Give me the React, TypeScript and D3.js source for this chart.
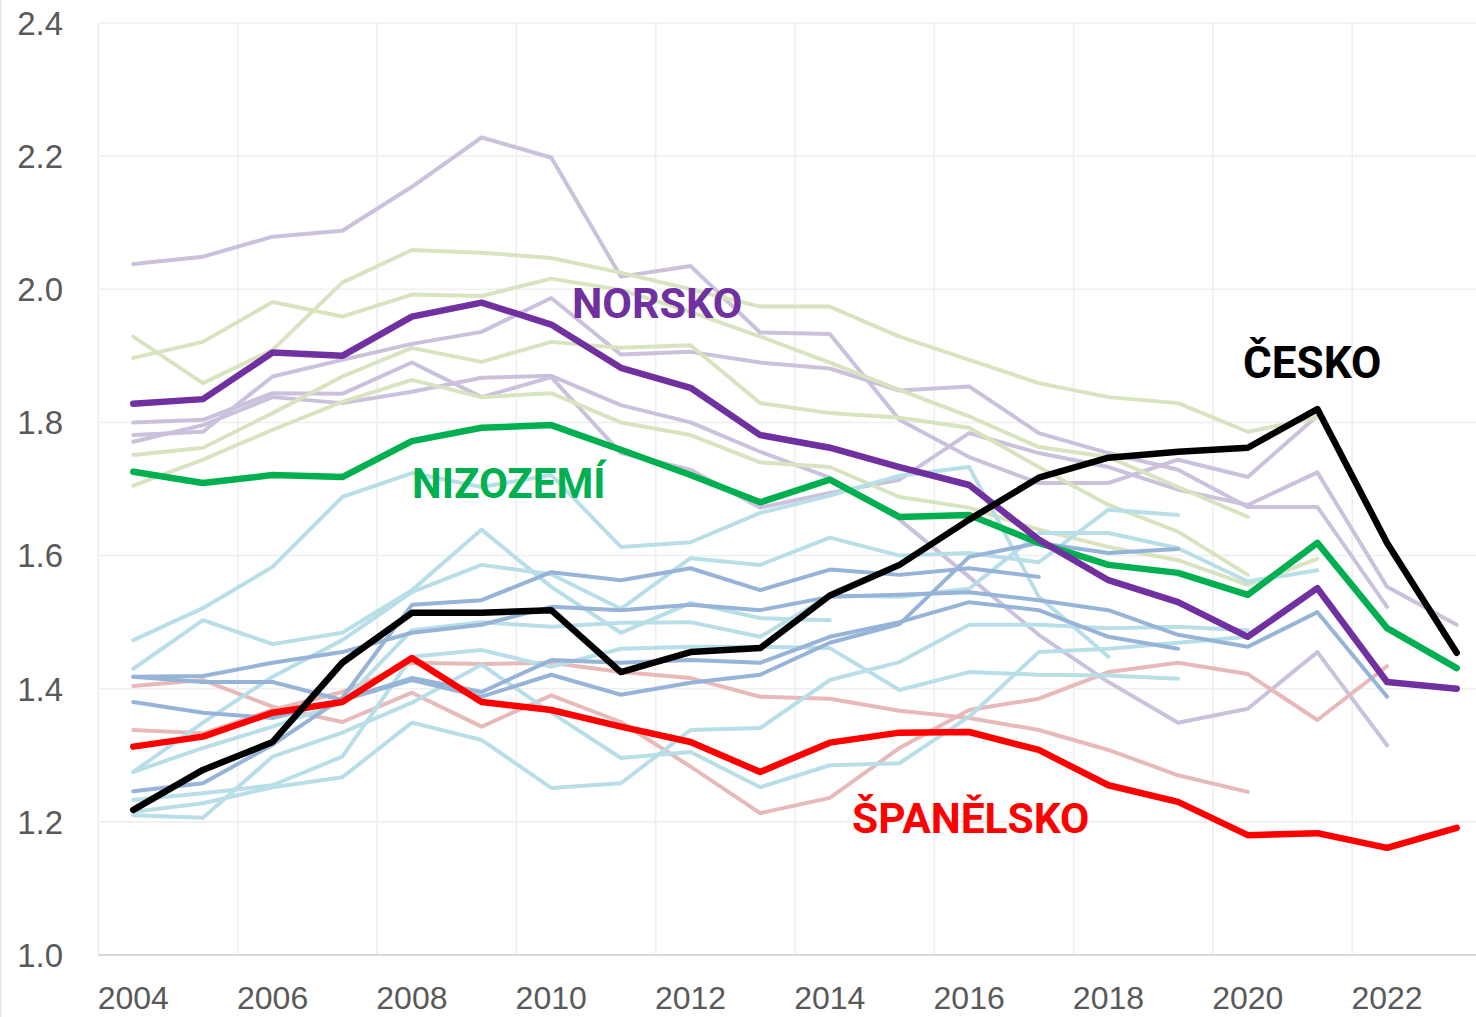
import React from "react";
import * as d3 from "d3";

const years = [2004, 2005, 2006, 2007, 2008, 2009, 2010, 2011, 2012, 2013, 2014, 2015, 2016, 2017, 2018, 2019, 2020, 2021, 2022, 2023];
const xTickYears = [2004, 2006, 2008, 2010, 2012, 2014, 2016, 2018, 2020, 2022];
const yTicks = [1.0, 1.2, 1.4, 1.6, 1.8, 2.0, 2.2, 2.4];

type V = number | null;

// highlighted series
const cesko: V[] = [1.218, 1.278, 1.32, 1.439, 1.514, 1.514, 1.518, 1.425, 1.455, 1.461, 1.54, 1.586, 1.654, 1.717, 1.747, 1.756, 1.762, 1.82, 1.619, 1.454];
const norsko: V[] = [1.828, 1.835, 1.905, 1.9, 1.959, 1.98, 1.947, 1.882, 1.852, 1.781, 1.762, 1.733, 1.706, 1.624, 1.563, 1.53, 1.478, 1.551, 1.41, 1.4];
const nizozemi: V[] = [1.726, 1.709, 1.721, 1.718, 1.772, 1.792, 1.796, 1.759, 1.721, 1.68, 1.714, 1.658, 1.661, 1.619, 1.586, 1.574, 1.541, 1.619, 1.491, 1.431];
const spanelsko: V[] = [1.313, 1.328, 1.364, 1.38, 1.446, 1.38, 1.368, 1.343, 1.32, 1.275, 1.319, 1.334, 1.335, 1.308, 1.255, 1.23, 1.18, 1.183, 1.161, 1.191];

// background: light purple
const purple1: V[] = [2.038, 2.049, 2.079, 2.088, 2.154, 2.228, 2.198, 2.019, 2.035, 1.935, 1.933, 1.804, 1.748, 1.709, 1.709, 1.744, 1.718, 1.81, null, null];
const purple2: V[] = [1.8, 1.804, 1.844, 1.843, 1.89, 1.838, 1.868, 1.754, 1.729, 1.672, 1.694, 1.714, 1.784, 1.754, 1.733, 1.699, 1.676, 1.725, 1.553, 1.496];
const purple3: V[] = [1.781, 1.786, 1.869, 1.894, 1.918, 1.936, 1.987, 1.902, 1.906, 1.89, 1.881, 1.848, 1.854, 1.784, 1.754, 1.729, 1.673, 1.673, 1.523, null];
const purple4: V[] = [1.771, 1.796, 1.838, 1.829, 1.846, 1.867, 1.87, 1.826, 1.8, 1.756, 1.717, 1.654, 1.568, 1.481, 1.41, 1.349, 1.37, 1.455, 1.315, null];

// background: light green
const green1: V[] = [1.929, 1.859, 1.909, 2.01, 2.059, 2.055, 2.047, 2.025, 2.0, 1.974, 1.974, 1.929, 1.894, 1.859, 1.838, 1.829, 1.786, 1.807, null, null];
const green2: V[] = [1.897, 1.921, 1.981, 1.959, 1.992, 1.99, 2.016, 1.999, 1.966, 1.929, 1.89, 1.849, 1.809, 1.763, 1.748, 1.703, 1.658, null, null, null];
const green3: V[] = [1.751, 1.762, 1.814, 1.869, 1.912, 1.891, 1.921, 1.912, 1.916, 1.829, 1.814, 1.807, 1.792, 1.733, 1.676, 1.636, 1.571, null, null, null];
const green4: V[] = [1.705, 1.744, 1.789, 1.831, 1.864, 1.838, 1.844, 1.8, 1.781, 1.74, 1.733, 1.688, 1.672, 1.639, 1.613, 1.593, 1.556, 1.595, null, null];

// background: light blue
const lblue1: V[] = [1.473, 1.521, 1.583, 1.688, 1.724, 1.703, 1.721, 1.613, 1.62, 1.664, 1.69, 1.72, 1.733, 1.538, 1.448, null, null, null, null, null];
const lblue2: V[] = [1.43, 1.503, 1.467, 1.484, 1.548, 1.639, 1.553, 1.484, 1.529, 1.506, 1.503, null, null, null, null, null, null, null, null, null];
const lblue3: V[] = [1.275, 1.349, 1.418, 1.473, 1.545, 1.586, 1.572, 1.52, 1.596, 1.586, 1.627, 1.6, 1.604, 1.59, 1.669, 1.661, null, null, null, null];
const lblue4: V[] = [1.275, 1.311, 1.343, 1.379, 1.488, 1.5, 1.493, 1.499, 1.5, 1.478, 1.54, 1.538, 1.55, 1.634, 1.634, 1.611, 1.561, 1.578, null, null];
const lblue5: V[] = [1.233, 1.243, 1.255, 1.298, 1.448, 1.458, 1.433, 1.46, 1.463, 1.463, 1.461, 1.398, 1.425, 1.421, 1.42, 1.415, null, null, null, null];
const lblue6: V[] = [1.21, 1.206, 1.298, 1.334, 1.379, 1.436, 1.364, 1.296, 1.305, 1.252, 1.285, 1.288, 1.358, 1.455, 1.46, 1.469, 1.478, null, null, null];
const lblue7: V[] = [1.215, 1.228, 1.252, 1.267, 1.349, 1.323, 1.251, 1.258, 1.338, 1.341, 1.413, 1.44, 1.496, 1.496, 1.491, 1.493, 1.488, null, null, null];

// background: medium blue
const mblue1: V[] = [1.418, 1.419, 1.439, 1.455, 1.484, 1.496, 1.523, 1.518, 1.526, 1.518, 1.538, 1.541, 1.545, 1.533, 1.518, 1.481, 1.463, 1.515, 1.388, null];
const mblue2: V[] = [1.246, 1.258, 1.316, 1.386, 1.526, 1.533, 1.575, 1.563, 1.581, 1.548, 1.579, 1.571, 1.581, 1.568, null, null, null, null, null, null];
const mblue3: V[] = [1.418, 1.41, 1.41, 1.383, 1.416, 1.395, 1.443, 1.439, 1.443, 1.439, 1.478, 1.5, 1.53, 1.518, 1.478, 1.46, null, null, null, null];
const mblue4: V[] = [1.38, 1.364, 1.356, 1.383, 1.413, 1.388, 1.421, 1.391, 1.409, 1.421, 1.469, 1.497, 1.598, 1.619, 1.604, 1.61, null, null, null, null];

// background: light red
const pink1: V[] = [1.404, 1.413, 1.373, 1.35, 1.394, 1.343, 1.39, 1.35, 1.283, 1.213, 1.236, 1.311, 1.368, 1.385, 1.425, 1.439, 1.422, 1.353, 1.434, null];
const pink2: V[] = [1.338, 1.333, 1.368, 1.395, 1.439, 1.437, 1.439, 1.425, 1.416, 1.388, 1.385, 1.367, 1.356, 1.338, 1.308, 1.27, 1.245, null, null, null];

const background: { data: V[]; color: string }[] = [
  ...[purple1, purple2, purple3, purple4].map((d) => ({ data: d, color: "#ccc1dc" })),
  ...[green1, green2, green3, green4].map((d) => ({ data: d, color: "#d8e4bf" })),
  ...[pink1, pink2].map((d) => ({ data: d, color: "#e7bab9" })),
  ...[lblue1, lblue2, lblue3, lblue4, lblue5, lblue6, lblue7].map((d) => ({ data: d, color: "#b8dee8" })),
  ...[mblue1, mblue2, mblue3, mblue4].map((d) => ({ data: d, color: "#96b3d8" })),
];

const highlights: { data: V[]; color: string }[] = [
  { data: spanelsko, color: "#ff0000" },
  { data: nizozemi, color: "#00b050" },
  { data: norsko, color: "#7030a0" },
  { data: cesko, color: "#000000" },
];

const W = 1476;
const H = 1017;

export default function App() {
  const x = d3.scaleLinear().domain([2004, 2023]).range([133.3, 1456.7]);
  const y = d3.scaleLinear().domain([1.0, 2.4]).range([955, 23]);
  const left = x(2003.5);
  const right = x(2023.5);

  const line = d3
    .line<V>()
    .defined((d) => d != null)
    .x((_, i) => x(years[i]))
    .y((d) => y(d as number));

  const axisFont = "'Liberation Sans', Arial, sans-serif";
  const labelFont = "Roboto, 'Noto Sans', sans-serif";

  return (
    <svg
      width={W}
      height={H}
      viewBox={`0 0 ${W} ${H}`}
      style={{ position: "absolute", left: 0, top: 0, background: "#ffffff" }}
    >
      <rect x={0} y={0} width={W} height={H} fill="#ffffff" />
      <line x1={0.75} x2={0.75} y1={0} y2={H} stroke="#e6e6e6" strokeWidth={1.5} />
      {/* horizontal gridlines */}
      {yTicks.slice(1).map((t) => (
        <line key={"h" + t} x1={left} x2={right} y1={y(t)} y2={y(t)} stroke="#efefef" strokeWidth={1.6} />
      ))}
      {/* vertical gridlines */}
      {xTickYears.map((yr) => (
        <line key={"v" + yr} x1={x(yr - 0.5)} x2={x(yr - 0.5)} y1={y(2.4)} y2={y(1.0)} stroke="#efefef" strokeWidth={1.6} />
      ))}
      {/* baseline */}
      <line x1={left} x2={right} y1={y(1.0)} y2={y(1.0)} stroke="#d9d9d9" strokeWidth={1.8} />

      {/* y tick labels */}
      {yTicks.map((t) => (
        <text
          key={"yl" + t}
          x={63}
          y={y(t)}
          dy="0.36em"
          textAnchor="end"
          fontFamily={axisFont}
          fontSize={33}
          fill="#595959"
        >
          {t.toFixed(1)}
        </text>
      ))}
      {/* x tick labels */}
      {xTickYears.map((yr) => (
        <text
          key={"xl" + yr}
          x={x(yr)}
          y={1009}
          textAnchor="middle"
          fontFamily={axisFont}
          fontSize={32}
          fill="#595959"
        >
          {yr}
        </text>
      ))}

      {/* background lines */}
      {background.map((s, i) => (
        <path
          key={"bg" + i}
          d={line(s.data) || ""}
          fill="none"
          stroke={s.color}
          strokeWidth={4}
          strokeLinejoin="round"
          strokeLinecap="round"
        />
      ))}
      {/* highlighted lines */}
      {highlights.map((s, i) => (
        <path
          key={"hl" + i}
          d={line(s.data) || ""}
          fill="none"
          stroke={s.color}
          strokeWidth={6.5}
          strokeLinejoin="round"
          strokeLinecap="round"
        />
      ))}

      {/* labels */}
      <text x={572} y={318} fontFamily={labelFont} fontWeight={700} fontSize={43} fill="#7030a0">NORSKO</text>
      <text x={412} y={498} fontFamily={labelFont} fontWeight={700} fontSize={42} fill="#00b050">NIZOZEMÍ</text>
      <text x={1243} y={378} fontFamily={labelFont} fontWeight={700} fontSize={44} fill="#000000">ČESKO</text>
      <text x={852} y={833} fontFamily={labelFont} fontWeight={700} fontSize={42.5} fill="#ff0000">ŠPANĚLSKO</text>
    </svg>
  );
}
